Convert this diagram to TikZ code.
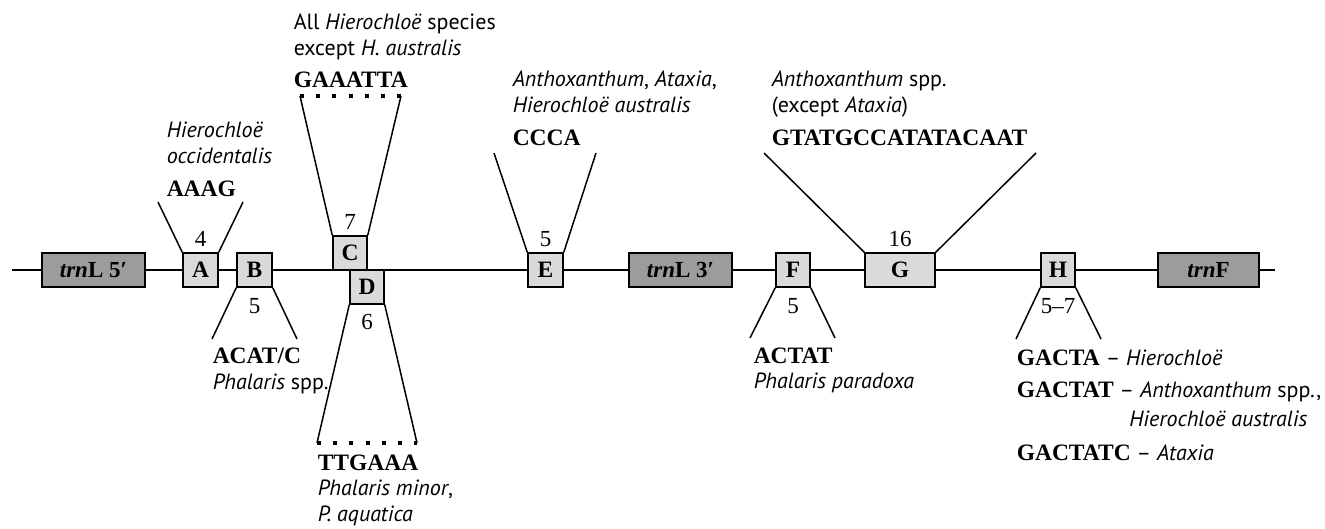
\documentclass[tikz,border=0pt]{standalone}
\usepackage{fontspec}
\setmainfont{Liberation Serif}
\setsansfont{PT Sans}
\definecolor{boxlight}{HTML}{DADADA}
\definecolor{boxdark}{HTML}{9C9C9C}
\newcommand\sqf[1]{{\fontsize{23.5}{25}\selectfont\rmfamily\bfseries #1}}
\begin{document}
\begin{tikzpicture}[x=1pt,y=-1pt,line width=1.5pt,
  site/.style={draw, fill=boxlight, minimum height=34pt, minimum width=34pt, inner sep=0pt,
    font=\fontsize{23.5}{25}\selectfont\bfseries},
  gene/.style={draw, fill=boxdark, minimum height=34pt, inner sep=0pt,
    font=\fontsize{23}{25}\selectfont\bfseries},
  seq/.style={anchor=base west, inner sep=0pt, font=\fontsize{23.5}{25}\selectfont\bfseries},
  sp/.style={anchor=base west, inner sep=0pt, font=\fontsize{22}{26}\selectfont\sffamily},
  num/.style={anchor=base, inner sep=0pt, font=\fontsize{23}{25}\selectfont},
  dotline/.style={line width=4pt, dash pattern=on 4pt off 12.2pt}
]
\useasboundingbox (0,0) rectangle (1325,529);
% main line
\coordinate (L0) at (12,270);
\coordinate (L1) at (1275,270);
\draw (L0) -- (L1);
% boxes
\node[gene, minimum width=103pt] (tL5) at (93.5,270) {\textit{trn}L 5′};
\node[site, minimum width=35pt] (A) at (200.5,270) {A};
\node[site, minimum width=35pt] (B) at (254.5,270) {B};
\node[site] (C) at (350,253) {C};
\node[site] (D) at (367,287) {D};
\node[site, minimum width=35pt] (E) at (545.5,270) {E};
\node[gene, minimum width=103pt] (tL3) at (680.5,270) {\textit{trn}L 3′};
\node[site] (F) at (793,270) {F};
\node[site, minimum width=70pt] (G) at (900,270) {G};
\node[site] (H) at (1058,270) {H};
\node[gene, minimum width=101pt] (tF) at (1208.5,270) {\textit{trn}F};
% free ends
\coordinate (a1) at (158,202); \coordinate (a2) at (243,202);
\coordinate (b1) at (212,339); \coordinate (b2) at (297,339);
\coordinate (c1) at (300,96);  \coordinate (c2) at (401,96);
\coordinate (d1) at (317,443); \coordinate (d2) at (417,443);
\coordinate (e1) at (494,153); \coordinate (e2) at (596,153);
\coordinate (f1) at (750,338); \coordinate (f2) at (835,338);
\coordinate (g1) at (764,153); \coordinate (g2) at (1036,153);
\coordinate (h1) at (1016,339); \coordinate (h2) at (1101,339);
% trapezoid connectors
\draw (A.north west) -- (a1); \draw (A.north east) -- (a2);
\draw (B.south west) -- (b1); \draw (B.south east) -- (b2);
\draw (C.north west) -- (c1); \draw (C.north east) -- (c2);
\draw[dotline] (c1) -- (c2);
\draw (D.south west) -- (d1); \draw (D.south east) -- (d2);
\draw[dotline] (d1) -- (d2);
\draw (E.north west) -- (e1); \draw (E.north east) -- (e2);
\draw (F.south west) -- (f1); \draw (F.south east) -- (f2);
\draw (G.north west) -- (g1); \draw (G.north east) -- (g2);
\draw (H.south west) -- (h1); \draw (H.south east) -- (h2);
% lengths
\node[num] (nA) at (200.5,247) {4};
\node[num] (nB) at (254.5,313) {5};
\node[num] (nC) at (350,230) {7};
\node[num] (nD) at (367,330) {6};
\node[num] (nE) at (545.5,247) {5};
\node[num] (nF) at (793,313) {5};
\node[num] (nG) at (900,247) {16};
\node[num] (nH) at (1058,313) {5–7};
% A
\node[sp] (tA1) at (166,138) {\textit{Hierochloë}};
\node[sp] (tA2) at (166,164) {\textit{occidentalis}};
\node[seq] (sA) at (166,197) {AAAG};
% B
\node[seq] (sB) at (212,363) {ACAT/C};
\node[sp] (tB1) at (212,389) {\textit{Phalaris} spp.};
% C
\node[sp] (tC1) at (293,30) {All \textit{Hierochloë} species};
\node[sp] (tC2) at (293,56) {except \textit{H. australis}};
\node[seq] (sC) at (293,88) {GAAATTA};
% D
\node[seq] (sD) at (317,470) {TTGAAA};
\node[sp] (tD1) at (317,495) {\textit{Phalaris minor},};
\node[sp] (tD2) at (317,521) {\textit{P. aquatica}};
% E
\node[sp] (tE1) at (512,87) {\textit{Anthoxanthum}, \textit{Ataxia},};
\node[sp] (tE2) at (512,113) {\textit{Hierochloë australis}};
\node[seq] (sE) at (512,146) {CCCA};
% F
\node[seq] (sF) at (753,363) {ACTAT};
\node[sp] (tF1) at (753,388) {\textit{Phalaris paradoxa}};
% G
\node[sp] (tG1) at (771,87) {\textit{Anthoxanthum} spp.};
\node[sp] (tG2) at (771,113) {(except \textit{Ataxia})};
\node[seq] (sG) at (771,146) {GTATGCCATATACAAT};
% H
\node[sp] (tH1) at (1016,365) {\sqf{GACTA} – \textit{Hierochloë}};
\node[sp] (tH2) at (1016,397) {\sqf{GACTAT} – \textit{Anthoxanthum} spp.,};
\node[sp, anchor=base east] (tH3) at (1308,426) {\textit{Hierochloë australis}};
\node[sp] (tH4) at (1016,460) {\sqf{GACTATC} – \textit{Ataxia}};
\end{tikzpicture}
\end{document}
